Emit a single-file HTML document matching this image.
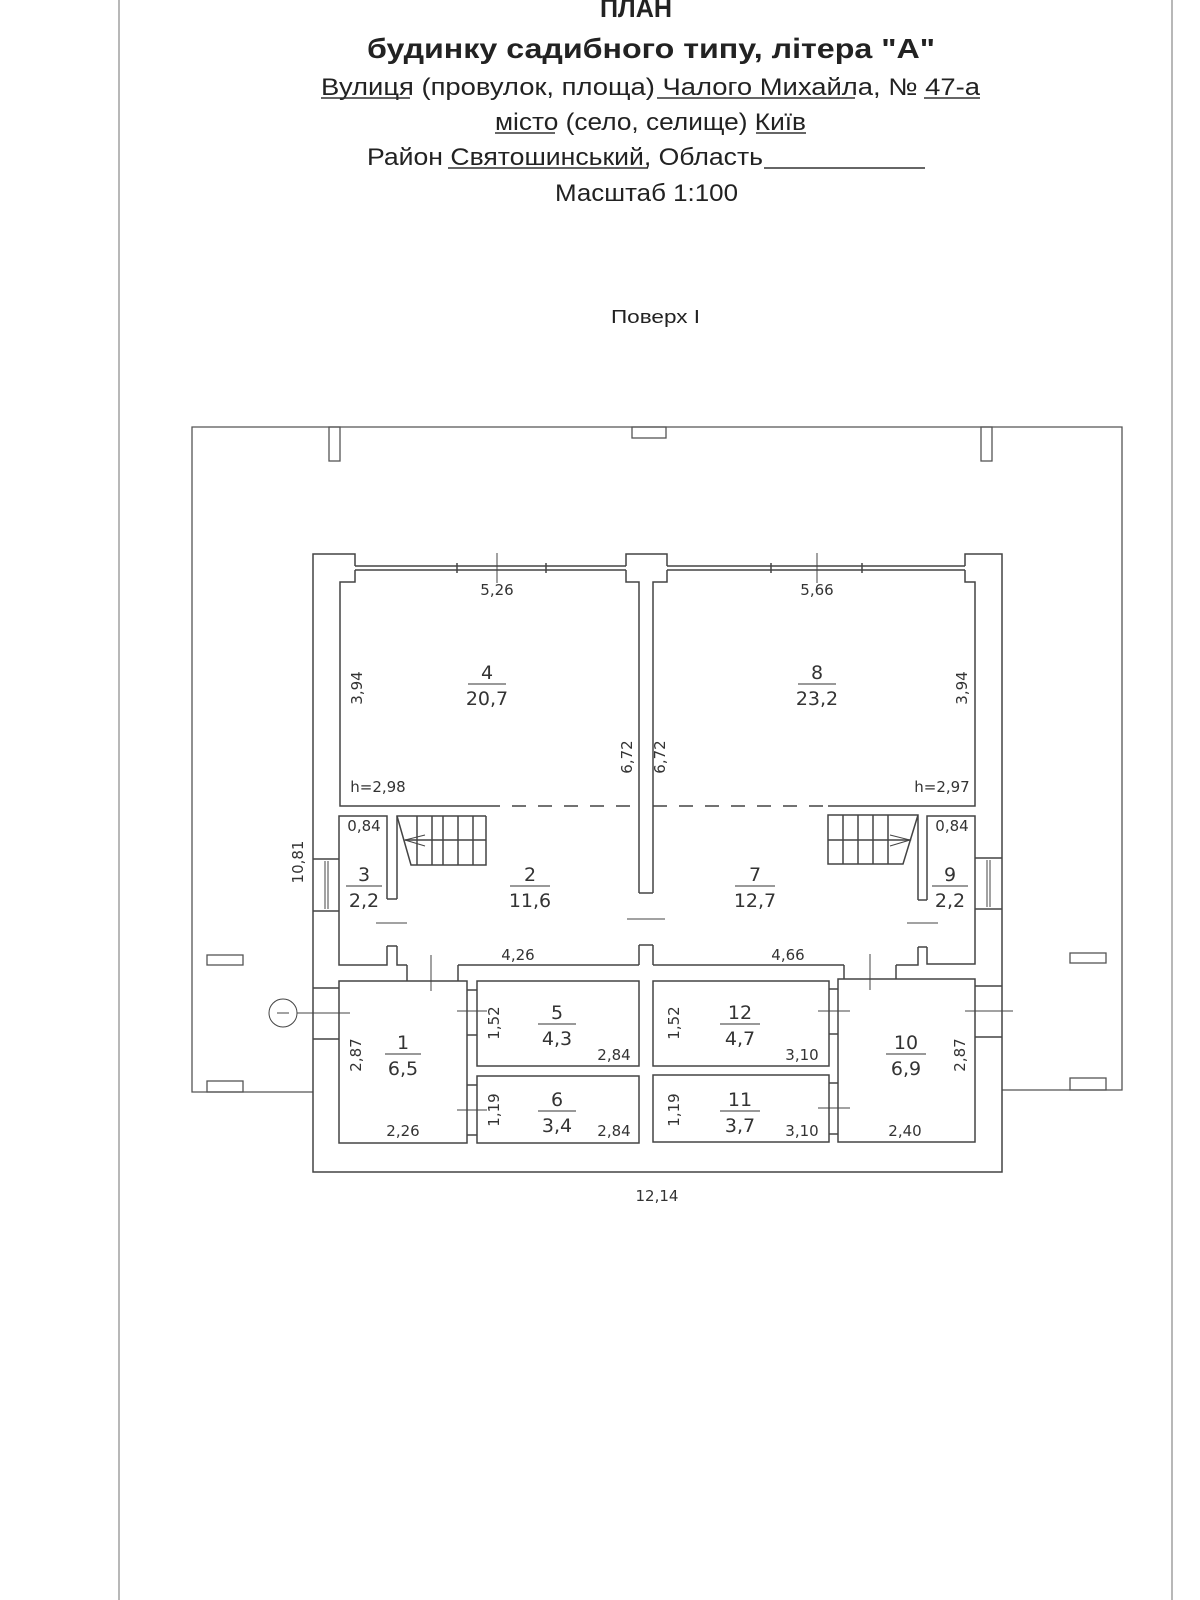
<!DOCTYPE html>
<html><head><meta charset="utf-8"><style>
html,body{margin:0;padding:0;background:#fff;}
svg{display:block;}
.t{font-family:"DejaVu Sans","Liberation Sans",sans-serif;fill:#333;}
.h{font-family:"Liberation Sans Narrow","Liberation Sans",sans-serif;fill:#222;}
</style></head><body>
<svg width="1200" height="1600" viewBox="0 0 1200 1600" xmlns="http://www.w3.org/2000/svg">
<g stroke="#888" stroke-width="1.2" fill="none">
<line x1="119" y1="0" x2="119" y2="1600"/>
<line x1="1172" y1="0" x2="1172" y2="1600"/>
</g>
<!-- Header -->
<text class="h" x="636" y="17" font-size="27" font-weight="bold" text-anchor="middle" textLength="72" lengthAdjust="spacingAndGlyphs">ПЛАН</text>
<text class="h" x="367" y="58" font-size="28" font-weight="bold" textLength="568" lengthAdjust="spacingAndGlyphs">будинку садибного типу, літера "А"</text>
<text class="h" x="321" y="95" font-size="24" textLength="659" lengthAdjust="spacingAndGlyphs">Вулиця (провулок, площа) Чалого Михайла,  №  47-а</text>
<text class="h" x="495" y="130" font-size="24" textLength="311" lengthAdjust="spacingAndGlyphs">місто (село, селище) Київ</text>
<text class="h" x="367" y="165" font-size="24" textLength="396" lengthAdjust="spacingAndGlyphs">Район Святошинський, Область</text>
<text class="h" x="555" y="201" font-size="24" textLength="183" lengthAdjust="spacingAndGlyphs">Масштаб 1:100</text>
<text class="h" x="611" y="323" font-size="18" textLength="89" lengthAdjust="spacingAndGlyphs">Поверх I</text>
<g stroke="#333" stroke-width="1.5">
<line x1="321" y1="98" x2="410" y2="98"/>
<line x1="657" y1="98" x2="855" y2="98"/>
<line x1="924" y1="98" x2="980" y2="98"/>
<line x1="495" y1="133" x2="555" y2="133"/>
<line x1="756" y1="133" x2="806" y2="133"/>
<line x1="448" y1="168" x2="648" y2="168"/>
<line x1="764" y1="168" x2="925" y2="168"/>
</g>
<!-- Site -->
<g stroke="#555" stroke-width="1.3" fill="none">
<polyline points="313,1092 192,1092 192,427 1122,427 1122,1090 1002,1090"/>
<rect x="329" y="427" width="11" height="34"/>
<rect x="632" y="427" width="34" height="11"/>
<rect x="981" y="427" width="11" height="34"/>
<rect x="207" y="955" width="36" height="10"/>
<rect x="207" y="1081" width="36" height="11"/>
<rect x="1070" y="953" width="36" height="10"/>
<rect x="1070" y="1078" width="36" height="12"/>
</g>
<!-- Building -->
<g stroke="#444" stroke-width="1.5" fill="none">
<polyline points="355,566 355,554 313,554 313,1172 1002,1172 1002,554 965,554 965,566"/>
<polyline points="355,570 355,582 340,582 340,806 486,806"/>
<polyline points="965,570 965,582 975,582 975,806 828,806"/>
<polyline points="626,566 626,554 667,554 667,566"/>
<polyline points="626,570 626,582 639,582 639,893"/>
<polyline points="667,570 667,582 653,582 653,893"/>
<line x1="639" y1="945" x2="639" y2="965"/><line x1="653" y1="945" x2="653" y2="965"/>
<line x1="639" y1="893" x2="653" y2="893"/><line x1="639" y1="945" x2="653" y2="945"/>
<line x1="355" y1="566" x2="626" y2="566"/><line x1="355" y1="570" x2="626" y2="570"/>
<line x1="667" y1="566" x2="965" y2="566"/><line x1="667" y1="570" x2="965" y2="570"/>
<line x1="497" y1="553" x2="497" y2="583" stroke-width="1"/>
<line x1="817" y1="553" x2="817" y2="583" stroke-width="1"/>
<line x1="457" y1="563" x2="457" y2="573"/><line x1="546" y1="563" x2="546" y2="573"/>
<line x1="771" y1="563" x2="771" y2="573"/><line x1="862" y1="563" x2="862" y2="573"/>
<line x1="486" y1="806" x2="639" y2="806" stroke-dasharray="14,12"/>
<line x1="653" y1="806" x2="828" y2="806" stroke-dasharray="14,12"/>
<!-- room 3 -->
<polyline points="387,899 387,816 339,816 339,965 387,965 387,946"/>
<line x1="387" y1="899" x2="397" y2="899"/><line x1="387" y1="946" x2="397" y2="946"/>
<!-- room 2 -->
<polyline points="397,899 397,816 486,816"/>
<polyline points="397,946 397,965 407,965"/>
<polyline points="458,965 639,965"/>
<line x1="407" y1="965" x2="407" y2="981"/><line x1="458" y1="965" x2="458" y2="981"/>
<!-- stair left -->
<polyline points="397,816 411,865 486,865 486,816"/>
<line x1="417" y1="816" x2="417" y2="865"/><line x1="432" y1="816" x2="432" y2="865"/>
<line x1="443" y1="816" x2="443" y2="865"/><line x1="458" y1="816" x2="458" y2="865"/>
<line x1="473" y1="816" x2="473" y2="865"/><line x1="405" y1="840" x2="486" y2="840"/>
<polyline points="425,835 405,840 425,846" stroke-width="1"/>
<!-- room 7 -->
<polyline points="653,965 844,965"/><polyline points="896,965 918,965 918,947"/>
<line x1="844" y1="965" x2="844" y2="979"/><line x1="896" y1="965" x2="896" y2="979"/>
<polyline points="918,900 918,815 828,815 828,864 903,864 918,815"/>
<line x1="843" y1="815" x2="843" y2="864"/><line x1="858" y1="815" x2="858" y2="864"/>
<line x1="873" y1="815" x2="873" y2="864"/><line x1="888" y1="815" x2="888" y2="864"/>
<line x1="828" y1="840" x2="911" y2="840"/>
<polyline points="890,835 910,840 890,846" stroke-width="1"/>
<!-- room 9 -->
<polyline points="927,900 927,816 975,816 975,964 927,964 927,947"/>
<line x1="918" y1="900" x2="927" y2="900"/><line x1="918" y1="947" x2="927" y2="947"/>
<!-- windows side -->
<line x1="313" y1="859" x2="339" y2="859"/><line x1="313" y1="911" x2="339" y2="911"/>
<line x1="325" y1="861" x2="325" y2="909" stroke-width="1"/><line x1="328" y1="861" x2="328" y2="909" stroke-width="1"/>
<line x1="975" y1="858" x2="1002" y2="858"/><line x1="975" y1="909" x2="1002" y2="909"/>
<line x1="987" y1="860" x2="987" y2="907" stroke-width="1"/><line x1="990" y1="860" x2="990" y2="907" stroke-width="1"/>
<line x1="313" y1="988" x2="339" y2="988"/><line x1="313" y1="1039" x2="339" y2="1039"/>
<line x1="975" y1="986" x2="1002" y2="986"/><line x1="975" y1="1037" x2="1002" y2="1037"/>
<!-- rooms -->
<rect x="339" y="981" width="128" height="162"/>
<rect x="477" y="981" width="162" height="85"/>
<rect x="477" y="1076" width="162" height="67"/>
<rect x="653" y="981" width="176" height="85"/>
<rect x="653" y="1075" width="176" height="67"/>
<rect x="838" y="979" width="137" height="163"/>
<line x1="467" y1="990" x2="477" y2="990"/><line x1="467" y1="1035" x2="477" y2="1035"/>
<line x1="467" y1="1085" x2="477" y2="1085"/><line x1="467" y1="1135" x2="477" y2="1135"/>
<line x1="829" y1="989" x2="838" y2="989"/><line x1="829" y1="1034" x2="838" y2="1034"/>
<line x1="829" y1="1083" x2="838" y2="1083"/><line x1="829" y1="1134" x2="838" y2="1134"/>
</g>
<!-- door ticks -->
<g stroke="#444" stroke-width="1">
<line x1="376" y1="923" x2="407" y2="923"/>
<line x1="627" y1="919" x2="665" y2="919"/>
<line x1="907" y1="923" x2="938" y2="923"/>
<line x1="431" y1="955" x2="431" y2="991"/>
<line x1="870" y1="954" x2="870" y2="990"/>
<line x1="457" y1="1011" x2="487" y2="1011"/>
<line x1="457" y1="1110" x2="487" y2="1110"/>
<line x1="818" y1="1011" x2="850" y2="1011"/>
<line x1="818" y1="1108" x2="850" y2="1108"/>
<line x1="965" y1="1011" x2="1013" y2="1011"/>
<line x1="297" y1="1013" x2="350" y2="1013"/>
<circle cx="283" cy="1013" r="14" fill="#fff"/>
<line x1="277" y1="1013" x2="289" y2="1013"/>
</g>
<!-- labels -->
<g class="t" font-size="15" text-anchor="middle">
<text x="497" y="595">5,26</text>
<text x="817" y="595">5,66</text>
<text x="378" y="792">h=2,98</text>
<text x="942" y="792">h=2,97</text>
<text x="364" y="831">0,84</text>
<text x="952" y="831">0,84</text>
<text x="518" y="960">4,26</text>
<text x="788" y="960">4,66</text>
<text x="614" y="1060">2,84</text>
<text x="614" y="1136">2,84</text>
<text x="802" y="1060">3,10</text>
<text x="802" y="1136">3,10</text>
<text x="403" y="1136">2,26</text>
<text x="905" y="1136">2,40</text>
<text x="657" y="1201">12,14</text>
<text transform="translate(362,688) rotate(-90)">3,94</text>
<text transform="translate(967,688) rotate(-90)">3,94</text>
<text transform="translate(632,757) rotate(-90)">6,72</text>
<text transform="translate(665,757) rotate(-90)">6,72</text>
<text transform="translate(303,862) rotate(-90)">10,81</text>
<text transform="translate(361,1055) rotate(-90)">2,87</text>
<text transform="translate(965,1055) rotate(-90)">2,87</text>
<text transform="translate(499,1023) rotate(-90)">1,52</text>
<text transform="translate(499,1110) rotate(-90)">1,19</text>
<text transform="translate(679,1023) rotate(-90)">1,52</text>
<text transform="translate(679,1110) rotate(-90)">1,19</text>
</g>
<g class="t" font-size="19" text-anchor="middle">
<text x="487" y="679">4</text><text x="487" y="705">20,7</text>
<text x="817" y="679">8</text><text x="817" y="705">23,2</text>
<text x="364" y="881">3</text><text x="364" y="907">2,2</text>
<text x="530" y="881">2</text><text x="530" y="907">11,6</text>
<text x="755" y="881">7</text><text x="755" y="907">12,7</text>
<text x="950" y="881">9</text><text x="950" y="907">2,2</text>
<text x="403" y="1049">1</text><text x="403" y="1075">6,5</text>
<text x="557" y="1019">5</text><text x="557" y="1045">4,3</text>
<text x="557" y="1106">6</text><text x="557" y="1132">3,4</text>
<text x="740" y="1019">12</text><text x="740" y="1045">4,7</text>
<text x="740" y="1106">11</text><text x="740" y="1132">3,7</text>
<text x="906" y="1049">10</text><text x="906" y="1075">6,9</text>
</g>
<g stroke="#333" stroke-width="1">
<line x1="468" y1="684" x2="506" y2="684"/><line x1="798" y1="684" x2="836" y2="684"/>
<line x1="346" y1="886" x2="382" y2="886"/><line x1="510" y1="886" x2="550" y2="886"/>
<line x1="735" y1="886" x2="775" y2="886"/><line x1="932" y1="886" x2="968" y2="886"/>
<line x1="385" y1="1054" x2="421" y2="1054"/><line x1="538" y1="1024" x2="576" y2="1024"/>
<line x1="538" y1="1111" x2="576" y2="1111"/><line x1="720" y1="1024" x2="760" y2="1024"/>
<line x1="720" y1="1111" x2="760" y2="1111"/><line x1="886" y1="1054" x2="926" y2="1054"/>
</g>
</svg>
</body></html>
